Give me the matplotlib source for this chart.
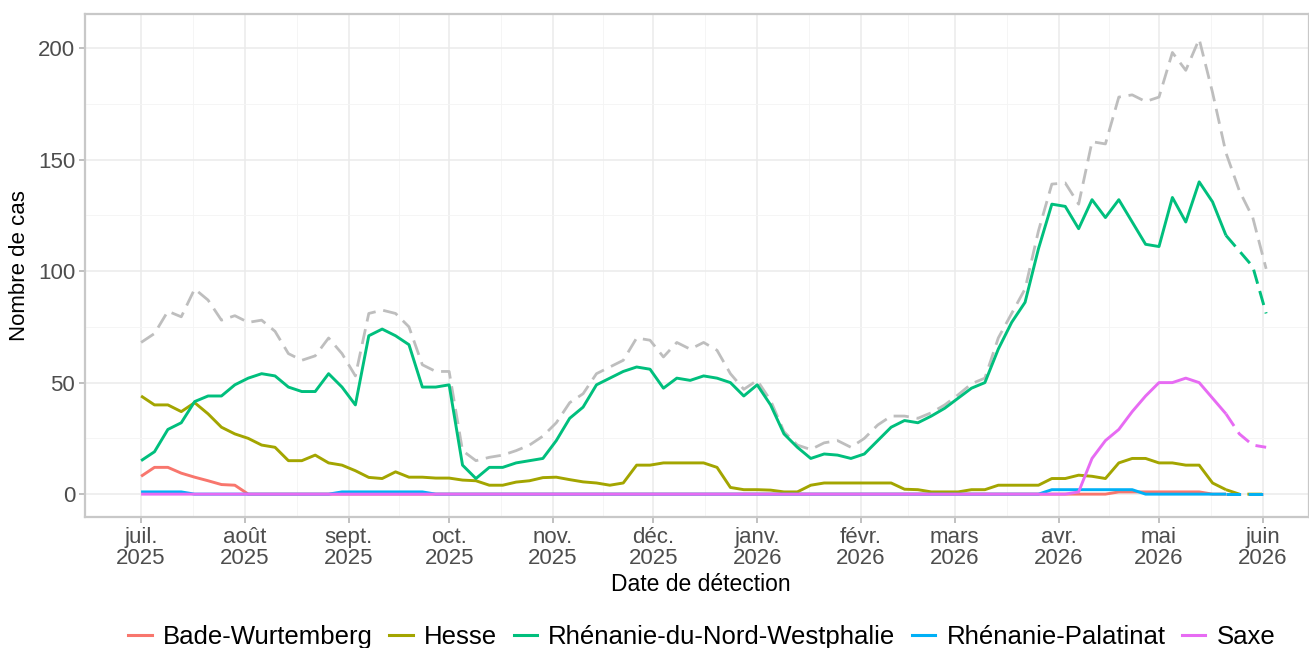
import matplotlib.pyplot as plt
import pandas as pd
from matplotlib.lines import Line2D

plt.rcParams["font.family"] = ["Liberation Sans", "DejaVu Sans"]

# cases every 4 days, 7-day window, from 1 July 2025
dates = pd.date_range("2025-07-01", periods=85, freq="4D")
nowcast_from = pd.Timestamp("2026-05-21")

total = [68, 72, 82, 79.5, 92, 87, 78, 80, 77, 78,
         73, 63, 60, 62, 70, 63, 53, 81, 82.5, 81,
         75, 58, 55, 55, 19.5, 15, 16.5, 17.5, 19.5, 22,
         26, 32, 41, 45, 54, 57, 60, 70, 69, 61.5,
         68, 65, 68, 64.5, 54, 47, 51, 42, 28, 22,
         20, 23, 24, 21, 25, 31, 35, 35, 34, 36.5,
         40, 44.5, 49.5, 52, 70, 81, 92, 118, 139, 139.5,
         130, 158, 157, 178, 179, 176, 178, 198, 190, 204,
         180, 153, 136, 124, 101]

bade_wurtemberg = [8, 12, 12, 9.4, 7.6, 6, 4.3, 4] + [0] * 65 + [1] * 7 + [0] * 5

hesse = [44, 40, 40, 37, 41, 36, 30, 27, 25, 22,
         21, 15, 15, 17.5, 14, 13, 10.5, 7.5, 7, 10,
         7.6, 7.6, 7.2, 7.2, 6.3, 6, 4, 4, 5.4, 6,
         7.4, 7.6, 6.5, 5.5, 5, 4, 5, 13, 13, 14,
         14, 14, 14, 12, 3, 2, 2, 1.8, 1, 1,
         4, 5, 5, 5, 5, 5, 5, 2.2, 2, 1,
         1, 1, 2, 2, 4, 4, 4, 4, 7, 7,
         8.5, 8, 7, 14, 16, 16, 14, 14, 13, 13,
         5, 2, 0, 0, 0]

rhenanie_nord = [15, 19, 29, 32, 41.5, 44, 44, 49, 52, 54,
                 53, 48, 46, 46, 54, 48, 40, 71, 74, 71,
                 67, 48, 48, 49, 13, 7, 12, 12, 14, 15,
                 16, 24, 34, 39, 49, 52, 55, 57, 56, 47.5,
                 52, 51, 53, 52, 50, 44, 49, 40, 27, 21,
                 16, 18, 17.5, 16, 18, 24, 30, 33, 32, 35,
                 38.5, 43, 47.5, 50, 65, 77, 86, 110, 130, 129,
                 119, 132, 124, 132, 122, 112, 111, 133, 122, 140,
                 131, 116, 109, 102, 81]

rhenanie_palatinat = [1] * 4 + [0] * 11 + [1] * 7 + [0] * 46 + [2] * 7 + [0] * 10

saxe = [0] * 70 + [1, 16, 24, 29, 37, 44, 50, 50, 52, 50,
                   43, 36, 27, 22, 21]

states = ["Bade-Wurtemberg", "Hesse", "Rhénanie-du-Nord-Westphalie",
          "Rhénanie-Palatinat", "Saxe"]
series = [bade_wurtemberg, hesse, rhenanie_nord, rhenanie_palatinat, saxe]
colors = ["#F8766D", "#A3A500", "#00BF7D", "#00B0F6", "#E76BF3"]

month_ticks = pd.date_range("2025-07-01", "2026-06-01", freq="MS")
month_labels = ["juil.\n2025", "août\n2025", "sept.\n2025", "oct.\n2025",
                "nov.\n2025", "déc.\n2025", "janv.\n2026", "févr.\n2026",
                "mars\n2026", "avr.\n2026", "mai\n2026", "juin\n2026"]

W, H = 1309, 648
fig = plt.figure(figsize=(W / 100, H / 100), dpi=100)
ax = fig.add_axes([85 / W, 1 - 517 / H, (W - 85) / W, (517 - 14) / H])

solid = dates <= nowcast_from
dashed = dates >= nowcast_from

ax.plot(dates, total, color="#BEBEBE", lw=2.0, dashes=(5.5, 2.8),
        zorder=2)
for vals, col in zip(series, colors):
    s = pd.Series(vals, index=dates)
    ax.plot(s.index[solid], s[solid], color=col, lw=2.1,
            solid_capstyle="butt", zorder=3)
    ax.plot(s.index[dashed], s[dashed], color=col, lw=2.1,
            dashes=(5, 2.6), zorder=3)

start = pd.Timestamp("2025-07-01")
ax.set_xlim(start - pd.Timedelta(days=16.75), start + pd.Timedelta(days=348.8))
ax.set_ylim(-10.25, 215.25)

ax.set_xticks(month_ticks)
ax.set_xticklabels(month_labels, linespacing=1.0)
mids = month_ticks[:-1] + (month_ticks[1:] - month_ticks[:-1]) / 2
ax.set_xticks(mids, minor=True)
ax.set_yticks([0, 50, 100, 150, 200])
ax.set_yticks([25, 75, 125, 175], minor=True)

ax.grid(which="major", color="#EBEBEB", lw=1.1)
ax.grid(which="minor", color="#F4F4F4", lw=0.6)
ax.set_axisbelow(True)

ax.tick_params(which="major", length=4, width=1.2, color="#B5B5B5",
               labelsize=16, labelcolor="#4D4D4D", pad=3)
ax.tick_params(which="minor", length=0)
for sp in ax.spines.values():
    sp.set_color("#C8C8C8")
    sp.set_linewidth(1.6)

ax.set_ylabel("Nombre de cas", fontsize=16)
ax.yaxis.set_label_coords((30 - 85) / (W - 85), 0.5)
ax.set_xlabel("Date de détection", fontsize=16.5)
ax.xaxis.set_label_coords((701 - 85) / (W - 85), (517 - 573) / (517 - 14))

handles = [Line2D([], [], color=c, lw=2.2) for c in colors]
fig.legend(handles, states, loc="center", ncol=5, frameon=False,
           bbox_to_anchor=(702 / W, 1 - 637 / H), fontsize=18.5,
           handlelength=0.9, handletextpad=0.45, columnspacing=0.64,
           borderaxespad=0, borderpad=0)

fig.savefig("out.png", dpi=100)
